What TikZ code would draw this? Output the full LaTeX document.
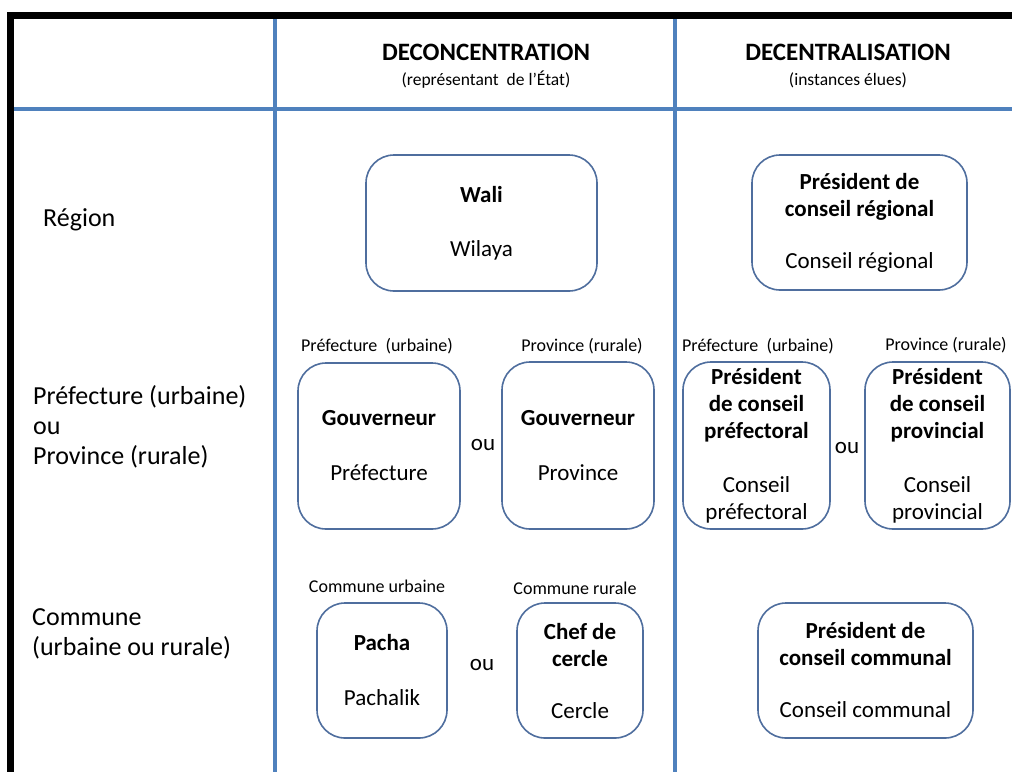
\documentclass[tikz,border=0pt]{standalone}
\usepackage{fontspec}
\setmainfont{Carlito}
\definecolor{gridblue}{HTML}{4F81BD}
\definecolor{boxblue}{HTML}{4F6E9E}
\newcommand\bxfont{\fontsize{23}{27}\selectfont}
\newcommand\lblfont{\fontsize{26}{30}\selectfont}
\newcommand\smfont{\fontsize{18}{20}\selectfont}
\newcommand\hdfont{\fontsize{25}{28}\selectfont}
\newcommand\subhdfont{\fontsize{17.5}{20}\selectfont}
\begin{document}
\begin{tikzpicture}[x=1pt,y=-1pt,
  box/.style={draw=boxblue, line width=1.6pt, rounded corners=28pt, align=center, inner sep=0pt, font=\bxfont},
  small/.style={font=\smfont, inner sep=0pt},
  oustyle/.style={font=\bxfont, inner sep=0pt},
  rowlbl/.style={font=\lblfont, align=left, anchor=west, inner sep=0pt},
  blackbar/.style={line width=7pt, black},
  gridline/.style={line width=3.5pt, gridblue}]
\useasboundingbox (0,0) rectangle (1012,772);
\clip (0,0) rectangle (1012,772);
\fill[white] (0,0) rectangle (1012,772);
% frame
\coordinate (tl) at (7,15.5);
\coordinate (tr) at (1012,15.5);
\coordinate (lt) at (10.5,12);
\coordinate (lb) at (10.5,772);
\draw[blackbar] (lt) -- (lb);
\draw[blackbar] (tl) -- (tr);
% grid
\coordinate (h1) at (14,109);
\coordinate (h2) at (1012,109);
\coordinate (v1t) at (275,19);
\coordinate (v1b) at (275,772);
\coordinate (v2t) at (675,19);
\coordinate (v2b) at (675,772);
\draw[gridline] (h1) -- (h2);
\draw[gridline] (v1t) -- (v1b);
\draw[gridline] (v2t) -- (v2b);
% headers
\node[font=\hdfont\bfseries, inner sep=0pt] (hdeconc) at (486,52) {DECONCENTRATION};
\node[font=\subhdfont, inner sep=0pt] (sdeconc) at (486,80) {(représentant\ \ de\ l’État)};
\node[font=\hdfont\bfseries, inner sep=0pt] (hdecent) at (848,52) {DECENTRALISATION};
\node[font=\subhdfont, inner sep=0pt] (sdecent) at (848,80) {(instances élues)};
% row labels
\node[rowlbl] (lregion) at (43,220) {Région};
\node[rowlbl] (lpref) at (33,427) {Préfecture (urbaine)\\ou\\Province (rurale)};
\node[rowlbl] (lcomm) at (32,634) {Commune\\(urbaine ou rurale)};
% region row
\node[box, minimum width=231, minimum height=136] (wali) at (481.5,223) {\textbf{Wali}\\[27pt]Wilaya};
\node[box, minimum width=215, minimum height=135] (creg) at (859.5,222.5) {\textbf{Président de}\\\textbf{conseil régional}\\[25pt]Conseil régional};
% prefecture row
\node[small] (tpref1) at (377,346) {Préfecture\ \ (urbaine)};
\node[small] (tprov1) at (582,346) {Province (rurale)};
\node[box, minimum width=162, minimum height=166] (gpref) at (379,446) {\textbf{Gouverneur}\\[28pt]Préfecture};
\node[box, minimum width=152, minimum height=167] (gprov) at (578,445.5) {\textbf{Gouverneur}\\[28pt]Province};
\node[oustyle] (ou1) at (483,445) {ou};
\node[small] (tpref2) at (758,346) {Préfecture\ \ (urbaine)};
\node[small] (tprov2) at (946,345) {Province (rurale)};
\node[box, minimum width=147, minimum height=167] (cpref) at (756.5,445.5) {\textbf{Président}\\\textbf{de conseil}\\\textbf{préfectoral}\\[27pt]Conseil\\préfectoral};
\node[box, minimum width=145, minimum height=167] (cprov) at (937.5,445.5) {\textbf{Président}\\\textbf{de conseil}\\\textbf{provincial}\\[27pt]Conseil\\provincial};
\node[oustyle] (ou2) at (847,448) {ou};
% commune row
\node[small] (tcu) at (377,586) {Commune urbaine};
\node[small] (tcr) at (575,588) {Commune rurale};
\node[box, minimum width=130, minimum height=135] (pacha) at (382,670.5) {\textbf{Pacha}\\[28pt]Pachalik};
\node[box, minimum width=126, minimum height=135] (chef) at (580,670.5) {\textbf{Chef de}\\\textbf{cercle}\\[25pt]Cercle};
\node[oustyle] (ou3) at (482,665) {ou};
\node[box, minimum width=215, minimum height=135] (ccom) at (865.5,670.5) {\textbf{Président de}\\\textbf{conseil communal}\\[25pt]Conseil communal};
\end{tikzpicture}
\end{document}
